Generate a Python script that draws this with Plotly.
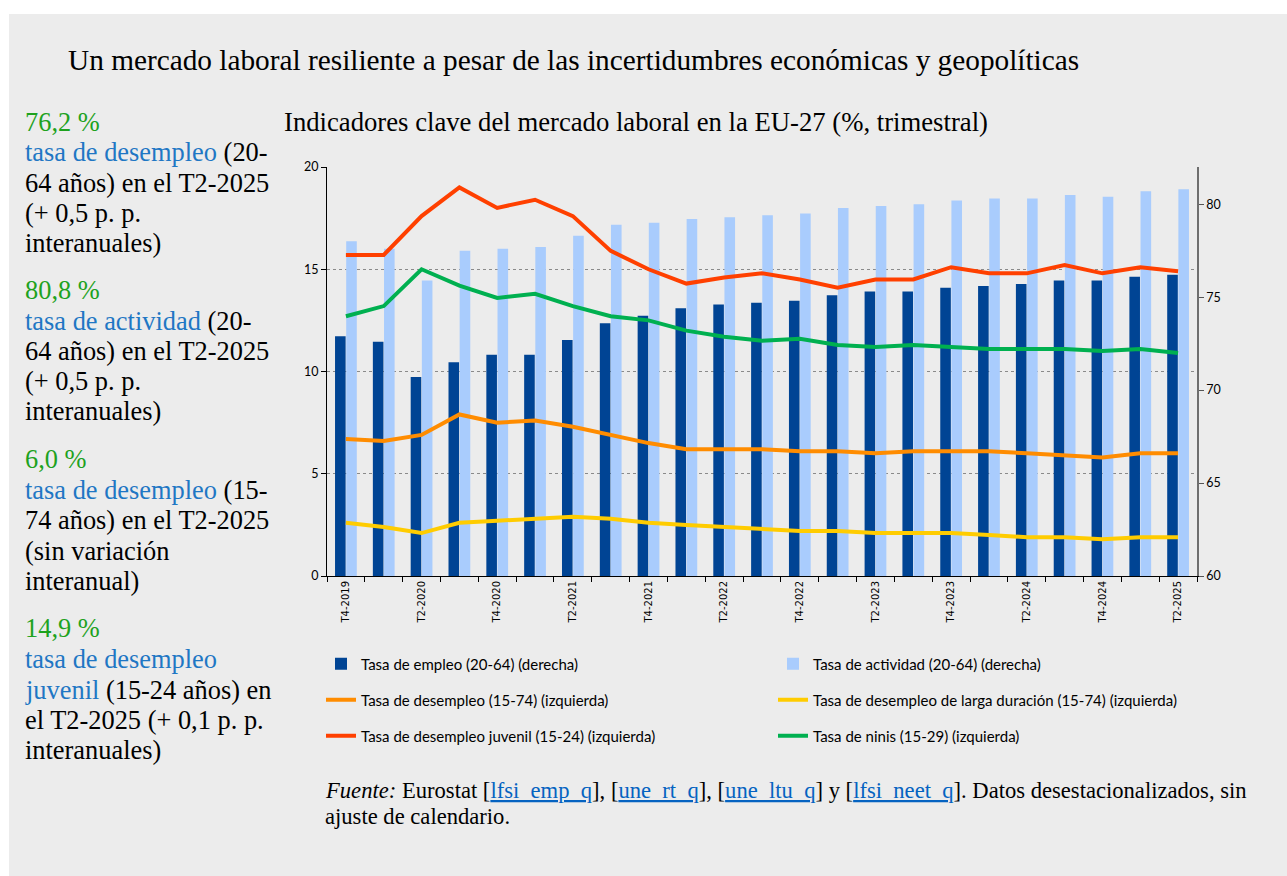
import plotly.graph_objects as go

# ---------------- data ----------------
categories = ["T4-2019", "T1-2020", "T2-2020", "T3-2020", "T4-2020", "T1-2021", "T2-2021",
              "T3-2021", "T4-2021", "T1-2022", "T2-2022", "T3-2022", "T4-2022", "T1-2023",
              "T2-2023", "T3-2023", "T4-2023", "T1-2024", "T2-2024", "T3-2024", "T4-2024",
              "T1-2025", "T2-2025"]
tick_labels = ["T4-2019", "", "T2-2020", "", "T4-2020", "", "T2-2021", "", "T4-2021", "",
               "T2-2022", "", "T4-2022", "", "T2-2023", "", "T4-2023", "", "T2-2024", "",
               "T4-2024", "", "T2-2025"]

employment = [72.9, 72.6, 70.7, 71.5, 71.9, 71.9, 72.7, 73.6, 74.0, 74.4, 74.6, 74.7, 74.8,
              75.1, 75.3, 75.3, 75.5, 75.6, 75.7, 75.9, 75.9, 76.1, 76.2]
activity = [78.0, 77.6, 75.9, 77.5, 77.6, 77.7, 78.3, 78.9, 79.0, 79.2, 79.3, 79.4, 79.5,
            79.8, 79.9, 80.0, 80.2, 80.3, 80.3, 80.5, 80.4, 80.7, 80.8]
unemployment = [6.7, 6.6, 6.9, 7.9, 7.5, 7.6, 7.3, 6.9, 6.5, 6.2, 6.2, 6.2, 6.1, 6.1, 6.0,
                6.1, 6.1, 6.1, 6.0, 5.9, 5.8, 6.0, 6.0]
long_term = [2.6, 2.4, 2.1, 2.6, 2.7, 2.8, 2.9, 2.8, 2.6, 2.5, 2.4, 2.3, 2.2, 2.2, 2.1,
             2.1, 2.1, 2.0, 1.9, 1.9, 1.8, 1.9, 1.9]
youth = [15.7, 15.7, 17.6, 19.0, 18.0, 18.4, 17.6, 15.9, 15.0, 14.3, 14.6, 14.8, 14.5, 14.1,
         14.5, 14.5, 15.1, 14.8, 14.8, 15.2, 14.8, 15.1, 14.9]
neet = [12.7, 13.2, 15.0, 14.2, 13.6, 13.8, 13.2, 12.7, 12.5, 12.0, 11.7, 11.5, 11.6, 11.3,
        11.2, 11.3, 11.2, 11.1, 11.1, 11.1, 11.0, 11.1, 10.9]

left_ticks = [0, 5, 10, 15, 20]
right_ticks = [60, 65, 70, 75, 80]

# ---------------- layout geometry ----------------
W, H = 1287, 876
ML, MR, MT, MB = 327, 90, 167, 300
PW, PH = W - ML - MR, H - MT - MB


def xp(px):
    return (px - ML) / PW


def yp(py):
    return (H - MB - py) / PH


SERIF = "Liberation Serif, Times New Roman, serif"
SANS = "Lato, Liberation Sans, sans-serif"
GREEN = "#1ea21e"
BLUE = "#1f77c4"

fig = go.Figure()

fig.add_trace(go.Bar(x=categories, y=employment, name="Tasa de empleo (20-64) (derecha)",
                     marker=dict(color="#004494", line=dict(width=0)), yaxis="y",
                     legend="legend"))
fig.add_trace(go.Bar(x=categories, y=activity, name="Tasa de actividad (20-64) (derecha)",
                     marker=dict(color="#a9ccfd", line=dict(width=0)), yaxis="y",
                     legend="legend"))

line_specs = [
    (unemployment, "Tasa de desempleo (15-74) (izquierda)", "#ff8c00", "legend2"),
    (long_term, "Tasa de desempleo de larga duración (15-74) (izquierda)", "#ffcc00", "legend2"),
    (youth, "Tasa de desempleo juvenil (15-24) (izquierda)", "#ff4000", "legend3"),
    (neet, "Tasa de ninis (15-29) (izquierda)", "#00b050", "legend3"),
]
for vals, name, col, lg in line_specs:
    fig.add_trace(go.Scatter(x=categories, y=vals, name=name, mode="lines",
                             line=dict(color=col, width=4), yaxis="y2", legend=lg))

legend_common = dict(orientation="h", xanchor="left", yanchor="middle",
                     x=xp(321), entrywidth=407, entrywidthmode="pixels",
                     font=dict(family=SANS, size=15, color="#000"),
                     bgcolor="rgba(0,0,0,0)", traceorder="normal")

annotations = []


def ann(text, px, py, size, family=SERIF, color="#000", xanchor="left"):
    annotations.append(dict(text=text, x=xp(px), y=yp(py), xref="paper", yref="paper",
                            xanchor=xanchor, yanchor="middle", showarrow=False, align="left",
                            font=dict(size=size, family=family, color=color)))


ann("Un mercado laboral resiliente a pesar de las incertidumbres económicas y geopolíticas",
    66, 60, 29.3)
ann("Indicadores clave del mercado laboral en la EU-27 (%, trimestral)", 282, 122, 26.7)


def g(t):
    return f"<span style='color:{GREEN}'>{t}</span>"


def b(t):
    return f"<span style='color:{BLUE}'>{t}</span>"


side_lines = [
    (g("76,2 %"), 122), (b("tasa de desempleo") + " (20-", 152),
    ("64 años) en el T2-2025", 183), ("(+ 0,5 p. p.", 213), ("interanuales)", 243),
    (g("80,8 %"), 290), (b("tasa de actividad") + " (20-", 321),
    ("64 años) en el T2-2025", 351), ("(+ 0,5 p. p.", 381), ("interanuales)", 411),
    (g("6,0 %"), 459), (b("tasa de desempleo") + " (15-", 490),
    ("74 años) en el T2-2025", 520), ("(sin variación", 551), ("interanual)", 581),
    (g("14,9 %"), 628), (b("tasa de desempleo"), 659),
    (b("juvenil") + " (15-24 años) en", 690), ("el T2-2025 (+ 0,1 p. p.", 720),
    ("interanuales)", 750),
]
for t, py in side_lines:
    ann(t, 23, py, 26.4)


def link(t):
    return f"[<span style='color:#0563c1'><u>{t}</u></span>]"


ann("<i>Fuente:</i> Eurostat " + link("lfsi_emp_q") + ", " + link("une_rt_q") + ", "
    + link("une_ltu_q") + " y " + link("lfsi_neet_q")
    + ". Datos desestacionalizados, sin", 323, 790, 22.6)
ann("ajuste de calendario.", 323, 816, 22.6)

shapes = [dict(type="rect", xref="paper", yref="paper", x0=xp(9), x1=xp(1300),
               y0=yp(890), y1=yp(14), fillcolor="#ececec", line=dict(width=0),
               layer="below")]

fig.update_layout(
    width=W, height=H,
    margin=dict(l=ML, r=MR, t=MT, b=MB, autoexpand=False),
    paper_bgcolor="white", plot_bgcolor="rgba(0,0,0,0)",
    barmode="group", bargap=0.41, bargroupgap=0.05,
    showlegend=True,
    legend=dict(legend_common, y=yp(664)),
    legend2=dict(legend_common, y=yp(700)),
    legend3=dict(legend_common, y=yp(736)),
    xaxis=dict(type="category", tickmode="array", tickvals=categories, ticktext=tick_labels,
               tickson="boundaries", ticks="outside", ticklen=5, tickcolor="#000",
               showline=True, linecolor="#000", linewidth=1, tickangle=-90,
               tickfont=dict(family="DejaVu Sans, sans-serif", size=10, color="#000"),
               showgrid=False, zeroline=False),
    yaxis=dict(side="right", range=[60, 82], tickvals=right_ticks, ticks="outside",
               ticklen=5, tickcolor="#555", showline=True, linecolor="#6e6e6e",
               linewidth=1.5, showgrid=False, zeroline=False,
               tickfont=dict(family=SANS, size=12.5, color="#000")),
    yaxis2=dict(side="left", overlaying="y", anchor="x", range=[0, 20], tickvals=left_ticks,
                ticks="outside", ticklen=5, tickcolor="#000", showline=True,
                linecolor="#000", linewidth=1, showgrid=True, gridcolor="#8a8a8a",
                griddash="dot", gridwidth=1, zeroline=False,
                tickfont=dict(family=SANS, size=12.5, color="#000")),
    annotations=annotations,
    shapes=shapes,
)

fig.write_html("out.html", config={"displayModeBar": False},
               post_script="document.body.style.margin='0px';")
